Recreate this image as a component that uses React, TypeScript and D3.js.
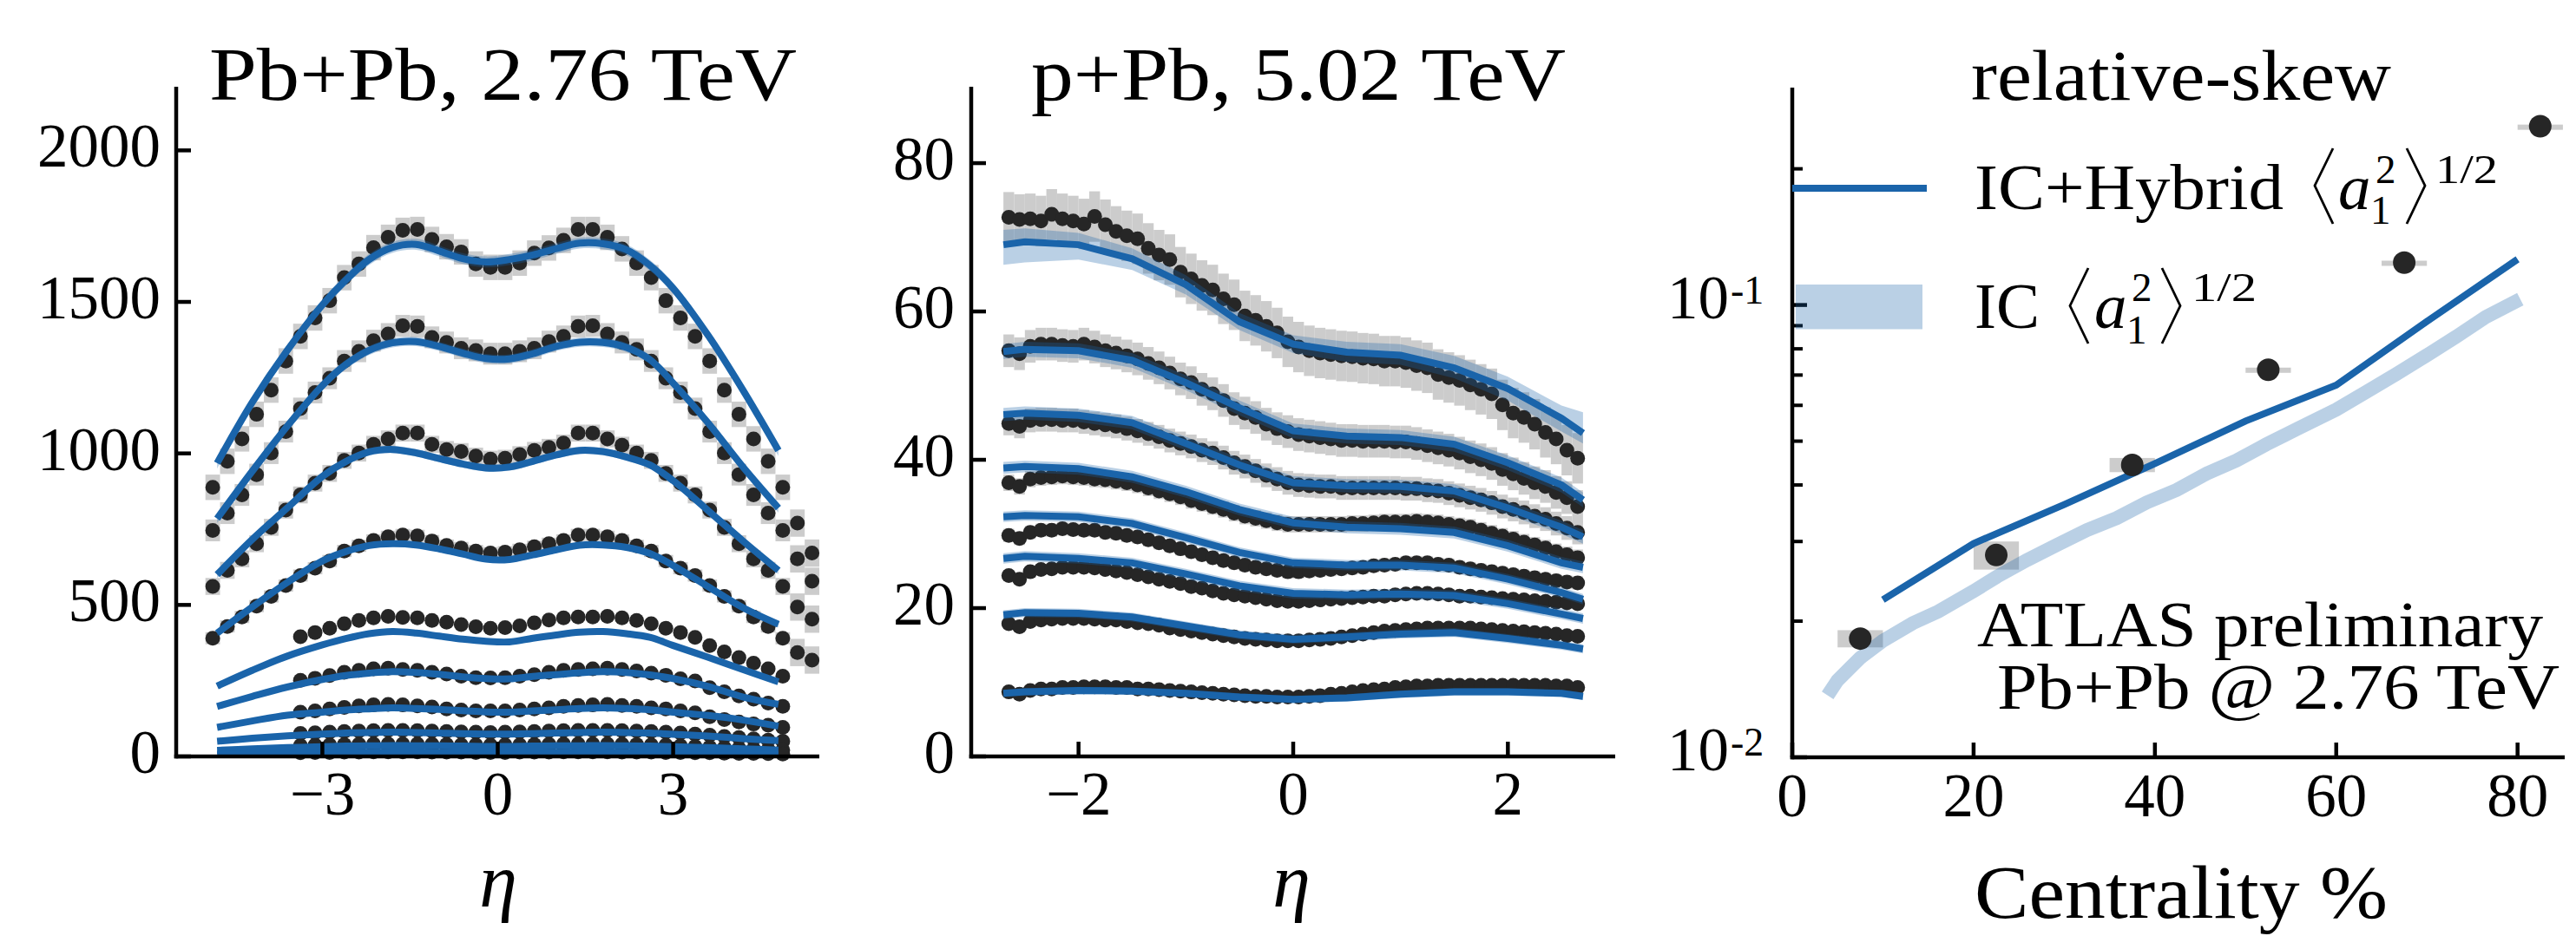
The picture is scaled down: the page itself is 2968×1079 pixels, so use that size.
import React from "react";
import * as d3 from "d3";

const W = 2968;
const H = 1079;
const SERIF = "'Liberation Serif', 'Times New Roman', serif";
const BLUE = "#1a64aa";
const DOT = "#262626";
const GREY = "#cccccc";

// ---------- Pb+Pb, 2.76 TeV : dN/deta per centrality class ----------
const ppEta = [
  -4.875, -4.625, -4.375, -4.125, -3.875, -3.625, -3.375, -3.125, -2.875, -2.625,
  -2.375, -2.125, -1.875, -1.625, -1.375, -1.125, -0.875, -0.625, -0.375, -0.125,
  0.125, 0.375, 0.625, 0.875, 1.125, 1.375, 1.625, 1.875, 2.125, 2.375,
  2.625, 2.875, 3.125, 3.375, 3.625, 3.875, 4.125, 4.375, 4.625, 4.875,
];
const ppEtaFwd = [5.125, 5.375];

const ppData1 = [888, 974, 1048, 1129, 1209, 1305, 1386, 1447, 1504, 1580, 1625, 1679, 1713, 1736, 1739, 1706, 1682, 1665, 1625, 1614, 1614, 1628, 1661, 1678, 1703, 1739, 1739, 1713, 1675, 1628, 1580, 1504, 1447, 1386, 1305, 1209, 1129, 1048, 974, 888];
const ppData2 = [746, 803, 863, 930, 1001, 1072, 1148, 1201, 1248, 1305, 1337, 1372, 1394, 1421, 1419, 1383, 1366, 1347, 1340, 1329, 1329, 1337, 1347, 1369, 1386, 1419, 1421, 1394, 1366, 1343, 1305, 1248, 1201, 1148, 1072, 1001, 930, 863, 803, 746];
const ppData3 = [561, 614, 652, 702, 756, 813, 863, 902, 934, 977, 1001, 1030, 1048, 1067, 1067, 1030, 1013, 1006, 991, 981, 984, 996, 1010, 1020, 1034, 1067, 1067, 1048, 1027, 1001, 977, 934, 902, 863, 813, 756, 702, 652, 614, 561];
const ppData4 = [390, 429, 460, 496, 528, 564, 597, 621, 645, 678, 695, 713, 725, 731, 728, 711, 696, 688, 678, 671, 674, 682, 692, 702, 713, 731, 731, 725, 713, 695, 678, 645, 621, 597, 564, 528, 496, 460, 429, 390];
// peripheral classes start at eta = -3.375
const ppData5 = [395, 409, 423, 438, 449, 457, 462, 459, 457, 449, 443, 435, 428, 423, 425, 431, 441, 450, 457, 460, 460, 462, 457, 449, 438, 423, 409, 393, 366, 345, 326, 308, 289, 265];
const ppData6 = [251, 258, 267, 278, 284, 289, 291, 287, 284, 278, 272, 265, 260, 259, 260, 265, 270, 278, 284, 287, 289, 291, 287, 282, 275, 268, 256, 249, 227, 213, 200, 189, 176, 165];
const ppData7 = [146, 150, 157, 162, 167, 170, 172, 170, 167, 163, 157, 153, 150, 150, 150, 153, 157, 160, 165, 168, 170, 172, 168, 165, 160, 157, 150, 144, 131, 122, 114, 107, 103, 96];
const ppData8 = [76, 78, 80, 82, 84, 85, 86, 86, 85, 84, 82, 81, 80, 79, 80, 81, 82, 84, 85, 86, 86, 86, 85, 84, 82, 80, 77, 74, 70, 66, 62, 58, 54, 50];
const ppData9 = [36, 37, 38, 39, 40, 41, 41, 41, 41, 40, 39, 38, 38, 37, 38, 38, 39, 40, 41, 41, 41, 41, 40, 39, 38, 37, 35, 33, 31, 29, 27, 25, 23, 21];
const ppData10 = [12, 13, 13, 14, 14, 15, 15, 15, 15, 14, 14, 14, 13, 13, 13, 14, 14, 14, 15, 15, 15, 15, 14, 14, 14, 13, 13, 12, 12, 11, 10, 10, 9, 8];
const ppFwd = [[770, 671], [652, 578], [493, 453], [343, 318]];
const ppErr = [42, 36, 28, 20, 0, 0, 0, 0, 0, 0];

const ppModelEta = [-4.8, -4.2, -3.6, -3.0, -2.6, -2.2, -1.8, -1.4, -1.0, -0.6, -0.2, 0.2, 0.6, 1.0, 1.4, 1.8, 2.2, 2.6, 3.0, 3.6, 4.2, 4.8];
const ppModel1 = [968, 1168, 1340, 1490, 1572, 1640, 1680, 1690, 1668, 1643, 1632, 1640, 1655, 1676, 1694, 1692, 1672, 1621, 1545, 1389, 1207, 1010];
const ppModel2 = [785, 941, 1090, 1224, 1293, 1340, 1365, 1369, 1353, 1331, 1313, 1312, 1329, 1353, 1367, 1366, 1350, 1310, 1232, 1100, 954, 820];
const ppModel3 = [600, 716, 820, 924, 973, 1005, 1013, 1002, 983, 965, 952, 955, 974, 995, 1010, 1006, 988, 962, 910, 811, 710, 614];
const ppModel4 = [407, 493, 574, 645, 676, 696, 702, 698, 685, 668, 651, 650, 665, 682, 697, 698, 690, 670, 630, 560, 490, 436];
const ppModel5 = [232, 284, 331, 368, 389, 405, 412, 407, 397, 387, 380, 378, 390, 401, 410, 412, 405, 393, 366, 327, 286, 246];
const ppModel6 = [165, 198, 229, 254, 267, 275, 280, 277, 271, 263, 257, 256, 264, 270, 276, 280, 277, 269, 257, 231, 196, 172];
const ppModel7 = [96, 117, 136, 146, 153, 157, 160, 158, 155, 151, 147, 146, 150, 154, 158, 160, 158, 154, 146, 135, 120, 100];
const ppModel8 = [50, 60, 68, 74, 77, 79, 80, 79, 77, 75, 74, 74, 75, 77, 79, 80, 79, 77, 73, 67, 59, 52];
const ppModel9 = [20, 25, 29, 32, 34, 35, 36, 35, 35, 34, 33, 33, 34, 35, 35, 36, 35, 34, 32, 29, 25, 21];
const ppModel10 = [7, 9, 11, 12, 13, 13, 14, 14, 13, 13, 13, 13, 13, 13, 14, 14, 13, 13, 12, 11, 9, 7];
const ppModelHalf = [18, 15, 12, 10, 0, 0, 0, 0, 0, 0];

// ---------- p+Pb, 5.02 TeV ----------
const pbEta = [
  -2.65, -2.55, -2.45, -2.35, -2.25, -2.15, -2.05, -1.95, -1.85, -1.75, -1.65, -1.55, -1.45, -1.35,
  -1.25, -1.15, -1.05, -0.95, -0.85, -0.75, -0.65, -0.55, -0.45, -0.35, -0.25, -0.15, -0.05,
  0.05, 0.15, 0.25, 0.35, 0.45, 0.55, 0.65, 0.75, 0.85, 0.95, 1.05, 1.15, 1.25, 1.35, 1.45,
  1.55, 1.65, 1.75, 1.85, 1.95, 2.05, 2.15, 2.25, 2.35, 2.45, 2.55, 2.65,
];
const pbData1 = [72.7, 72.4, 72.5, 72.2, 73.1, 72.5, 72.2, 71.8, 72.8, 71.7, 70.8, 70.2, 69.8, 68.5, 67.6, 67.0, 65.3, 64.4, 63.5, 62.9, 61.7, 60.9, 59.4, 58.8, 58.0, 57.1, 55.9, 55.2, 54.7, 54.4, 54.2, 54.0, 53.9, 53.7, 53.6, 53.3, 53.3, 53.1, 52.7, 52.4, 51.5, 51.1, 50.7, 50.1, 49.5, 48.9, 47.4, 46.3, 45.7, 44.8, 43.7, 42.8, 41.3, 40.2];
const pbData2 = [54.7, 54.3, 55.3, 55.6, 55.6, 55.4, 55.3, 55.6, 55.2, 54.7, 54.4, 54.0, 53.6, 53.0, 52.4, 51.7, 50.9, 50.4, 49.5, 48.9, 48.0, 46.9, 46.3, 45.7, 44.8, 44.2, 43.8, 43.4, 43.2, 43.0, 42.8, 42.6, 42.6, 42.5, 42.5, 42.5, 42.4, 42.4, 42.2, 41.9, 41.6, 41.3, 40.9, 40.4, 40.0, 39.5, 38.7, 38.1, 37.5, 36.9, 36.4, 35.6, 34.9, 33.7];
const pbData3 = [44.9, 44.5, 45.3, 45.4, 45.4, 45.3, 45.3, 45.1, 44.9, 44.7, 44.5, 44.2, 43.9, 43.5, 43.1, 42.6, 42.2, 41.8, 41.3, 40.9, 40.3, 39.6, 39.1, 38.5, 37.9, 37.4, 36.9, 36.6, 36.5, 36.4, 36.4, 36.2, 36.2, 36.2, 36.2, 36.2, 36.2, 36.1, 36.1, 35.9, 35.8, 35.5, 35.2, 34.9, 34.6, 34.2, 33.7, 33.3, 32.9, 32.4, 32.0, 31.4, 30.8, 30.2];
const pbData4 = [36.9, 36.4, 37.4, 37.6, 37.7, 37.8, 37.7, 37.6, 37.4, 37.3, 37.1, 36.9, 36.6, 36.2, 35.8, 35.4, 35.0, 34.5, 34.1, 33.7, 33.3, 32.8, 32.4, 32.1, 31.8, 31.5, 31.3, 31.3, 31.3, 31.3, 31.3, 31.3, 31.4, 31.4, 31.5, 31.6, 31.6, 31.6, 31.7, 31.6, 31.5, 31.3, 31.1, 30.9, 30.5, 30.1, 29.7, 29.3, 28.9, 28.5, 28.1, 27.6, 27.2, 26.8];
const pbData5 = [29.8, 29.4, 30.2, 30.5, 30.5, 30.7, 30.6, 30.5, 30.5, 30.2, 30.1, 29.8, 29.6, 29.2, 28.8, 28.4, 28.0, 27.6, 27.2, 26.8, 26.4, 26.1, 25.8, 25.5, 25.3, 25.1, 24.9, 24.9, 25.0, 25.1, 25.2, 25.3, 25.4, 25.5, 25.7, 25.8, 25.9, 26.1, 26.1, 26.1, 25.9, 25.8, 25.5, 25.3, 25.1, 24.9, 24.7, 24.5, 24.3, 24.1, 23.9, 23.7, 23.5, 23.4];
const pbData6 = [24.4, 23.9, 24.9, 25.2, 25.3, 25.5, 25.5, 25.5, 25.4, 25.2, 25.0, 24.8, 24.5, 24.2, 23.9, 23.6, 23.3, 22.9, 22.7, 22.3, 22.0, 21.8, 21.6, 21.4, 21.2, 21.0, 20.9, 20.9, 21.0, 21.1, 21.2, 21.3, 21.4, 21.5, 21.6, 21.6, 21.8, 21.9, 22.0, 22.0, 21.9, 21.8, 21.6, 21.6, 21.5, 21.4, 21.3, 21.2, 21.1, 21.0, 20.9, 20.8, 20.7, 20.6];
const pbData7 = [17.9, 17.5, 18.2, 18.4, 18.5, 18.6, 18.6, 18.6, 18.5, 18.4, 18.4, 18.2, 18.0, 17.9, 17.7, 17.3, 17.1, 16.9, 16.7, 16.5, 16.3, 16.1, 15.9, 15.8, 15.7, 15.6, 15.6, 15.6, 15.7, 15.8, 15.9, 16.1, 16.3, 16.5, 16.7, 16.9, 17.0, 17.1, 17.2, 17.3, 17.3, 17.3, 17.3, 17.3, 17.2, 17.1, 17.0, 16.9, 16.8, 16.7, 16.6, 16.5, 16.3, 16.2];
const pbData8 = [8.7, 8.4, 8.9, 9.1, 9.1, 9.3, 9.3, 9.4, 9.4, 9.4, 9.3, 9.3, 9.1, 9.1, 9.0, 8.9, 8.8, 8.7, 8.6, 8.5, 8.4, 8.3, 8.2, 8.1, 8.1, 8.0, 8.0, 8.0, 8.1, 8.2, 8.4, 8.5, 8.7, 8.9, 9.0, 9.1, 9.3, 9.4, 9.5, 9.5, 9.6, 9.6, 9.6, 9.6, 9.6, 9.6, 9.6, 9.6, 9.6, 9.6, 9.6, 9.5, 9.5, 9.3];
const pbErr = [3.4, 2.2, 1.6, 1.1, 0.9, 0.7, 0.6, 0.4];

const pbModelEta = [-2.7, -2.5, -2.0, -1.5, -1.0, -0.5, 0, 0.5, 1.0, 1.5, 2.0, 2.5, 2.7];
const pbModel1 = [69.0, 69.4, 69.0, 67.1, 63.6, 58.6, 55.6, 54.5, 54.1, 52.4, 49.6, 45.6, 43.6];
const pbModel2 = [54.6, 54.9, 54.7, 53.4, 50.4, 47.0, 43.9, 43.2, 43.0, 42.1, 39.6, 36.6, 34.6];
const pbModel3 = [46.1, 46.3, 46.0, 45.0, 42.2, 39.3, 36.9, 36.5, 36.4, 35.8, 33.5, 30.9, 29.6];
const pbModel4 = [38.9, 39.1, 38.8, 37.7, 35.7, 33.3, 31.5, 30.9, 30.7, 30.2, 28.4, 26.1, 25.5];
const pbModel5 = [32.3, 32.5, 32.3, 31.4, 29.5, 27.5, 26.1, 25.8, 25.8, 25.4, 23.9, 22.1, 21.2];
const pbModel6 = [26.7, 27.0, 26.7, 26.1, 24.6, 23.0, 22.0, 21.8, 21.9, 21.7, 20.6, 19.2, 18.6];
const pbModel7 = [19.1, 19.4, 19.3, 18.8, 17.6, 16.4, 15.8, 16.1, 16.5, 16.7, 15.9, 15.0, 14.5];
const pbModel8 = [8.5, 8.7, 8.9, 8.8, 8.5, 8.0, 7.7, 7.9, 8.4, 8.7, 8.7, 8.5, 8.1];
const pbBandLo1 = [66.3, 66.6, 67.0, 65.6, 62.3, 57.5, 54.4, 53.2, 52.8, 51.0, 48.0, 43.8, 42.2];
const pbBandHi1 = [71.0, 71.2, 70.6, 68.5, 64.9, 59.8, 56.8, 55.9, 55.6, 54.0, 51.2, 47.3, 46.4];
const pbModelHalf = [0, 1.0, 0.9, 0.8, 0.7, 0.7, 0.6, 0.5];

// ---------- relative skew vs centrality ----------
const skewCent = [7.5, 22.5, 37.5, 52.5, 67.5, 82.5];
const skewData = [0.0183, 0.028, 0.0443, 0.0719, 0.1241, 0.2485];
const skewErr = [0.0008, 0.002, 0.0016, 0.0008, 0.0012, 0.002];
const hybridCent = [10, 20, 30, 40, 50, 60, 70, 80];
const hybridVal = [0.0223, 0.0297, 0.0362, 0.0446, 0.0554, 0.0665, 0.092, 0.1262];
const icCent = [3.9, 5, 7.5, 10, 13.3, 16.1, 20, 22.6, 25.9, 29.2, 32.5, 35.8, 39.1, 42.4, 45.7, 49, 52.3, 55.6, 60, 63.3, 66.6, 69.9, 73.2, 76.5, 80.3];
const icVal = [0.0137, 0.0148, 0.0166, 0.0181, 0.0198, 0.021, 0.0233, 0.0251, 0.0273, 0.0295, 0.0318, 0.0338, 0.0366, 0.039, 0.0424, 0.0453, 0.0492, 0.0531, 0.0587, 0.0642, 0.0703, 0.0772, 0.085, 0.0941, 0.103];

const ppTicksY = [0, 500, 1000, 1500, 2000];
const ppTicksX = [-3, 0, 3];
const pbTicksY = [0, 20, 40, 60, 80];
const pbTicksX = [-2, 0, 2];
const skTicksX = [0, 20, 40, 60, 80];
const skMinor = [0.02, 0.03, 0.04, 0.05, 0.06, 0.07, 0.08, 0.09, 0.2];

const fmt = (v: number) => (v < 0 ? "\u2212" + Math.abs(v) : String(v));

function Spines({ x0, x1, y0, y1 }: { x0: number; x1: number; y0: number; y1: number }) {
  return (
    <g stroke="#000" strokeWidth={4.5}>
      <line x1={x0} x2={x0} y1={y0} y2={y1 + 2.25} />
      <line x1={x0 - 2.25} x2={x1} y1={y1} y2={y1} />
    </g>
  );
}

export default function App() {
  // scales
  const ppX = d3.scaleLinear().domain([-5.5, 5.5]).range([203, 944]);
  const ppY = d3.scaleLinear().domain([0, 2210]).range([872, 100]);
  const pbX = d3.scaleLinear().domain([-3, 3]).range([1119, 1861]);
  const pbY = d3.scaleLinear().domain([0, 90.3]).range([872, 100]);
  const skX = d3.scaleLinear().domain([0, 85.2]).range([2065, 2955]);
  const skY = d3.scaleLog().domain([0.01, 0.3024]).range([873, 101]);

  const ppEtaPeri = ppEta.slice(6);
  const ppSeries = [ppData1, ppData2, ppData3, ppData4, ppData5, ppData6, ppData7, ppData8, ppData9, ppData10].map(
    (vals, i) => ({ eta: i < 4 ? ppEta : ppEtaPeri, vals, err: ppErr[i] })
  );
  const ppModels = [ppModel1, ppModel2, ppModel3, ppModel4, ppModel5, ppModel6, ppModel7, ppModel8, ppModel9, ppModel10];

  const pbSeries = [pbData1, pbData2, pbData3, pbData4, pbData5, pbData6, pbData7, pbData8];
  const pbModels = [pbModel1, pbModel2, pbModel3, pbModel4, pbModel5, pbModel6, pbModel7, pbModel8];

  const ppLine = d3
    .line<number>()
    .x((_, i) => ppX(ppModelEta[i]))
    .y((d) => ppY(d))
    .curve(d3.curveCatmullRom.alpha(0.5));
  const ppArea = (vals: number[], h: number) =>
    d3
      .area<number>()
      .x((_, i) => ppX(ppModelEta[i]))
      .y0((d) => ppY(d - h))
      .y1((d) => ppY(d + h))
      .curve(d3.curveCatmullRom.alpha(0.5))(vals) || "";

  const pbLine = d3
    .line<number>()
    .x((_, i) => pbX(pbModelEta[i]))
    .y((d) => pbY(d));
  const pbArea = (lo: number[], hi: number[]) =>
    d3
      .area<number>()
      .x((_, i) => pbX(pbModelEta[i]))
      .y0((_, i) => pbY(lo[i]))
      .y1((_, i) => pbY(hi[i]))(lo) || "";

  const hybridLine =
    d3
      .line<number>()
      .x((_, i) => skX(hybridCent[i]))
      .y((d) => skY(d))(hybridVal) || "";
  const icLine =
    d3
      .line<number>()
      .x((_, i) => skX(icCent[i]))
      .y((d) => skY(d))(icVal) || "";

  const tickFont = { fontFamily: SERIF, fontSize: 71, fill: "#000" };
  const dotR = 8.5;

  return (
    <svg
      width={W}
      height={H}
      viewBox={`0 0 ${W} ${H}`}
      style={{ position: "absolute", left: 0, top: 0, background: "#fff" }}
    >
      <rect x={0} y={0} width={W} height={H} fill="#fff" />

      {/* ================= Panel 1: Pb+Pb ================= */}
      <g>
        {ppSeries.map((s, si) =>
          s.err > 0
            ? s.eta.map((e, i) => (
                <rect
                  key={`ppe${si}-${i}`}
                  x={ppX(e - 0.125)}
                  width={ppX(e + 0.125) - ppX(e - 0.125)}
                  y={ppY(s.vals[i] + s.err)}
                  height={ppY(s.vals[i] - s.err) - ppY(s.vals[i] + s.err)}
                  fill={GREY}
                />
              ))
            : null
        )}
        {ppFwd.map((vals, si) =>
          vals.map((v, i) => (
            <rect
              key={`ppfe${si}-${i}`}
              x={ppX(ppEtaFwd[i] - 0.125)}
              width={ppX(ppEtaFwd[i] + 0.125) - ppX(ppEtaFwd[i] - 0.125)}
              y={ppY(v + 45)}
              height={ppY(v - 45) - ppY(v + 45)}
              fill={GREY}
            />
          ))
        )}
        {ppSeries.map((s, si) =>
          s.eta.map((e, i) => <circle key={`ppd${si}-${i}`} cx={ppX(e)} cy={ppY(s.vals[i])} r={dotR} fill={DOT} />)
        )}
        {ppFwd.map((vals, si) =>
          vals.map((v, i) => <circle key={`ppfd${si}-${i}`} cx={ppX(ppEtaFwd[i])} cy={ppY(v)} r={dotR} fill={DOT} />)
        )}
        {ppModels.map((m, i) =>
          ppModelHalf[i] > 0 ? (
            <path key={`ppb${i}`} d={ppArea(m, ppModelHalf[i])} fill={BLUE} fillOpacity={0.3} />
          ) : null
        )}
        {ppModels.map((m, i) => (
          <path key={`ppl${i}`} d={ppLine(m) || ""} fill="none" stroke={BLUE} strokeWidth={8} />
        ))}
      </g>
      <Spines x0={203} x1={944} y0={100} y1={872} />
      <g stroke="#000" strokeWidth={4.5}>
        {ppTicksY.map((t) => (
          <line key={`ppty${t}`} x1={203} x2={220} y1={ppY(t)} y2={ppY(t)} />
        ))}
        {ppTicksX.map((t) => (
          <line key={`pptx${t}`} x1={ppX(t)} x2={ppX(t)} y1={872} y2={855} />
        ))}
      </g>
      {ppTicksY.map((t) => (
        <text key={`pply${t}`} x={185} y={ppY(t) + 19} textAnchor="end" {...tickFont}>
          {t}
        </text>
      ))}
      {ppTicksX.map((t) => (
        <text key={`pplx${t}`} x={ppX(t)} y={939} textAnchor="middle" {...tickFont}>
          {fmt(t)}
        </text>
      ))}
      <text x={241} y={115} fontFamily={SERIF} fontSize={87} textLength={677} lengthAdjust="spacingAndGlyphs">
        Pb+Pb, 2.76 TeV
      </text>
      <text x={574} y={1045} textAnchor="middle" fontFamily={SERIF} fontStyle="italic" fontSize={88}>
        η
      </text>

      {/* ================= Panel 2: p+Pb ================= */}
      <g>
        {pbSeries.map((vals, si) =>
          pbEta.map((e, i) => (
            <rect
              key={`pbe${si}-${i}`}
              x={pbX(e - 0.05)}
              width={pbX(e + 0.05) - pbX(e - 0.05)}
              y={pbY(vals[i] + pbErr[si])}
              height={pbY(vals[i] - pbErr[si]) - pbY(vals[i] + pbErr[si])}
              fill={GREY}
            />
          ))
        )}
        {pbSeries.map((vals, si) =>
          pbEta.map((e, i) => <circle key={`pbd${si}-${i}`} cx={pbX(e)} cy={pbY(vals[i])} r={dotR} fill={DOT} />)
        )}
        <path d={pbArea(pbBandLo1, pbBandHi1)} fill={BLUE} fillOpacity={0.3} />
        {pbModels.map((m, i) =>
          i > 0 ? (
            <path
              key={`pbb${i}`}
              d={pbArea(
                m.map((v) => v - pbModelHalf[i]),
                m.map((v) => v + pbModelHalf[i])
              )}
              fill={BLUE}
              fillOpacity={0.3}
            />
          ) : null
        )}
        {pbModels.map((m, i) => (
          <path key={`pbl${i}`} d={pbLine(m) || ""} fill="none" stroke={BLUE} strokeWidth={8} />
        ))}
      </g>
      <Spines x0={1119} x1={1861} y0={100} y1={872} />
      <g stroke="#000" strokeWidth={4.5}>
        {pbTicksY.map((t) => (
          <line key={`pbty${t}`} x1={1119} x2={1136} y1={pbY(t)} y2={pbY(t)} />
        ))}
        {pbTicksX.map((t) => (
          <line key={`pbtx${t}`} x1={pbX(t)} x2={pbX(t)} y1={872} y2={855} />
        ))}
      </g>
      {pbTicksY.map((t) => (
        <text key={`pbly${t}`} x={1100} y={pbY(t) + 19} textAnchor="end" {...tickFont}>
          {t}
        </text>
      ))}
      {pbTicksX.map((t) => (
        <text key={`pblx${t}`} x={pbX(t)} y={939} textAnchor="middle" {...tickFont}>
          {fmt(t)}
        </text>
      ))}
      <text x={1188} y={115} fontFamily={SERIF} fontSize={87} textLength={616} lengthAdjust="spacingAndGlyphs">
        p+Pb, 5.02 TeV
      </text>
      <text x={1488} y={1045} textAnchor="middle" fontFamily={SERIF} fontStyle="italic" fontSize={88}>
        η
      </text>

      {/* ================= Panel 3: relative skew ================= */}
      <g>
        {skewCent.map((c, i) => (
          <rect
            key={`ske${i}`}
            x={skX(c - 2.5)}
            width={skX(c + 2.5) - skX(c - 2.5)}
            y={skY(skewData[i] + skewErr[i])}
            height={Math.max(6, skY(skewData[i] - skewErr[i]) - skY(skewData[i] + skewErr[i]))}
            fill={GREY}
          />
        ))}
        <path d={icLine} fill="none" stroke={BLUE} strokeOpacity={0.3} strokeWidth={16} />
        <path d={hybridLine} fill="none" stroke={BLUE} strokeWidth={8} />
        {skewCent.map((c, i) => (
          <circle key={`skd${i}`} cx={skX(c)} cy={skY(skewData[i])} r={13} fill={DOT} />
        ))}
      </g>
      <Spines x0={2065} x1={2955} y0={101} y1={873} />
      <g stroke="#000" strokeWidth={4.5}>
        {[0.01, 0.1].map((t) => (
          <line key={`skty${t}`} x1={2065} x2={2082} y1={skY(t)} y2={skY(t)} />
        ))}
        {skMinor.map((t) => (
          <line key={`skm${t}`} x1={2065} x2={2077} y1={skY(t)} y2={skY(t)} strokeWidth={4} />
        ))}
        {skTicksX.map((t) => (
          <line key={`sktx${t}`} x1={skX(t)} x2={skX(t)} y1={873} y2={856} />
        ))}
      </g>
      {[
        { v: 0.1, e: "-1" },
        { v: 0.01, e: "-2" },
      ].map((t) => (
        <g key={`skl${t.v}`}>
          <text x={1992} y={skY(t.v) + 15} textAnchor="end" {...tickFont}>
            10
          </text>
          <text x={1994} y={skY(t.v) - 2} fontFamily={SERIF} fontSize={46}>
            {t.e}
          </text>
        </g>
      ))}
      {skTicksX.map((t) => (
        <text key={`sklx${t}`} x={skX(t)} y={941} textAnchor="middle" {...tickFont}>
          {t}
        </text>
      ))}
      <text x={2275} y={1058} fontFamily={SERIF} fontSize={86} textLength={476} lengthAdjust="spacingAndGlyphs">
        Centrality %
      </text>
      <text x={2278} y={745} fontFamily={SERIF} fontSize={75} textLength={652} lengthAdjust="spacingAndGlyphs">
        ATLAS preliminary
      </text>
      <text x={2301} y={817} fontFamily={SERIF} fontSize={75} textLength={648} lengthAdjust="spacingAndGlyphs">
        Pb+Pb @ 2.76 TeV
      </text>

      {/* legend */}
      <text x={2271} y={115} fontFamily={SERIF} fontSize={83} textLength={484} lengthAdjust="spacingAndGlyphs">
        relative-skew
      </text>
      <line x1={2065} x2={2220} y1={217} y2={217} stroke={BLUE} strokeWidth={8} />
      <rect x={2069} y={328} width={146} height={51.5} fill={BLUE} fillOpacity={0.3} />
      <g fontFamily={SERIF} fill="#000">
        <text x={2275} y={241} fontSize={75} textLength={356} lengthAdjust="spacingAndGlyphs">
          IC+Hybrid
        </text>
        <text x={2694} y={241} fontSize={75} fontStyle="italic">
          a
        </text>
        <text x={2737} y={211} fontSize={47}>
          2
        </text>
        <text x={2731} y={258} fontSize={47}>
          1
        </text>
        <text x={2806} y={211} fontSize={47} textLength={72} lengthAdjust="spacingAndGlyphs">
          1/2
        </text>
        <text x={2275} y={378} fontSize={75} textLength={75} lengthAdjust="spacingAndGlyphs">
          IC
        </text>
        <text x={2413} y={378} fontSize={75} fontStyle="italic">
          a
        </text>
        <text x={2456} y={347} fontSize={47}>
          2
        </text>
        <text x={2450} y={396} fontSize={47}>
          1
        </text>
        <text x={2525} y={347} fontSize={47} textLength={75} lengthAdjust="spacingAndGlyphs">
          1/2
        </text>
      </g>
      <g fill="none" stroke="#000" strokeWidth={2.8}>
        <path d="M2688,171 L2667,214 L2688,258" />
        <path d="M2773,171 L2794,214 L2773,258" />
        <path d="M2406,309 L2385,352.5 L2406,396" />
        <path d="M2491,309 L2512,352.5 L2491,396" />
      </g>
    </svg>
  );
}
